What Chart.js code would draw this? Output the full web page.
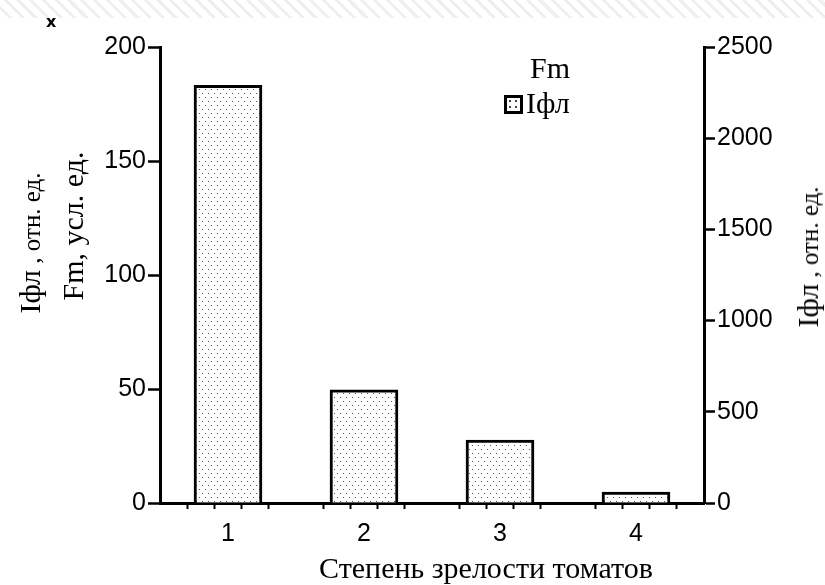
<!DOCTYPE html>
<html>
<head>
<meta charset="utf-8">
<script src="https://cdn.jsdelivr.net/npm/chart.js@4"></script>
<style>
  body { margin: 0; background: #fff; }
  #wrap { position: relative; width: 825px; height: 585px; overflow: hidden; background: #fff; }
  #strip {
    position: absolute; left: 0; top: 0; width: 825px; height: 18px;
    background: repeating-linear-gradient(45deg, #fff 0 6px, #efefef 6px 9px);
  }
  #chart { position: absolute; left: 0; top: 0; }
  .t { position: absolute; font-family: 'Liberation Serif', serif; color: #000; white-space: nowrap; line-height: 1; }
  .rot { transform: translate(-50%, -50%) rotate(-90deg); }
  .mark { position: absolute; left: 46px; top: 12px; font: bold 16px 'DejaVu Sans', sans-serif; color: #000; }
  .lgbox {
    position: absolute; left: 504px; top: 95px; width: 13px; height: 13px;
    border: 3px solid #000; background-color: #fff;
    background-image: radial-gradient(circle, #444 0.8px, transparent 1.1px);
    background-size: 6px 6px;
  }
</style>
</head>
<body>
<div id="wrap">
  <canvas id="chart" width="825" height="585"></canvas>
  <div id="strip"></div>
  <div class="mark">x</div>
  <div class="t rot" style="left:30px; top:243px;"><span style="font-size:30px">Iфл</span><span style="font-size:25px"> , отн. ед.</span></div>
  <div class="t rot" style="left:73px; top:226px; font-size:30px;">Fm, усл. ед.</div>
  <div class="t rot" style="left:808px; top:257px;"><span style="font-size:30px">Iфл</span><span style="font-size:25px"> , отн. ед.</span></div>
  <div class="t" id="xtitle" style="left:486px; top:553px; font-size:30px; transform:translateX(-50%);"></div>
  <div class="t" id="lg0" style="left:530px; top:53px; font-size:30px;"></div>
  <div class="lgbox"></div>
  <div class="t" id="lg1" style="left:526px; top:88px; font-size:30px;"></div>
</div>
<script>
// данные графика
const categories = ['1', '2', '3', '4'];
const seriesNames = ['Fm', 'Iфл'];
const iflValues = [2290, 620, 345, 60];
const leftTicks = [0, 50, 100, 150, 200];
const rightTicks = [0, 500, 1000, 1500, 2000, 2500];
const xTitle = 'Степень зрелости томатов';
// мелкие засечки на оси X вокруг каждой категории
const minorOffsets = [-0.3, -0.1, 0, 0.1, 0.3];

document.getElementById('xtitle').textContent = xTitle;
document.getElementById('lg0').textContent = seriesNames[0];
document.getElementById('lg1').textContent = seriesNames[1];

function dotPattern() {
    const c = document.createElement('canvas');
    c.width = 6;
    c.height = 8;
    const g = c.getContext('2d');
    g.fillStyle = '#fff';
    g.fillRect(0, 0, 6, 8);
    g.fillStyle = '#555';
    g.fillRect(1, 1, 1, 1);
    g.fillRect(4, 5, 1, 1);
    return g.createPattern(c, 'repeat');
}

const xTickValues = categories.flatMap(c => minorOffsets.map(o => Number(c) + o));
const tickFont = { family: 'Liberation Sans', size: 25 };

const ctx = document.getElementById('chart').getContext('2d');
new Chart(ctx, {
    type: 'bar',
    data: {
        datasets: [{
            label: seriesNames[1],
            data: categories.map((c, i) => ({ x: Number(c), y: iflValues[i] })),
            yAxisID: 'y1',
            backgroundColor: dotPattern(),
            borderColor: '#000',
            borderWidth: 3,
            barThickness: 68
        }]
    },
    options: {
        responsive: false,
        animation: false,
        devicePixelRatio: 1,
        layout: { padding: { top: 47, left: 0, right: 0, bottom: 0 } },
        plugins: { legend: { display: false }, tooltip: { enabled: false } },
        scales: {
            x: {
                type: 'linear',
                min: 0.5,
                max: 4.5,
                offset: false,
                afterBuildTicks: s => { s.ticks = xTickValues.map(v => ({ value: v })); },
                afterFit: s => { s.height = 82; },
                border: { color: '#000', width: 3 },
                grid: {
                    offset: false,
                    drawOnChartArea: false,
                    tickLength: 6,
                    tickWidth: 2,
                    tickColor: c => (c.tick && Number.isInteger(c.tick.value)) ? 'rgba(0,0,0,0)' : '#000'
                },
                ticks: {
                    autoSkip: false,
                    maxRotation: 0,
                    padding: 10,
                    color: '#000',
                    font: tickFont,
                    callback: v => Number.isInteger(v) ? String(v) : ''
                }
            },
            y: {
                position: 'left',
                min: 0,
                max: 200,
                afterBuildTicks: s => { s.ticks = leftTicks.map(v => ({ value: v })); },
                afterFit: s => { s.width = 160; },
                border: { color: '#000', width: 3 },
                grid: { drawOnChartArea: false, tickLength: 12, tickWidth: 2.5, tickColor: '#000' },
                ticks: { padding: 2, color: '#000', font: tickFont, callback: v => String(v) }
            },
            y1: {
                position: 'right',
                min: 0,
                max: 2500,
                afterBuildTicks: s => { s.ticks = rightTicks.map(v => ({ value: v })); },
                afterFit: s => { s.width = 121; },
                border: { color: '#000', width: 3 },
                grid: { drawOnChartArea: false, tickLength: 11, tickWidth: 2.5, tickColor: '#000' },
                ticks: { padding: 2, color: '#000', font: tickFont, callback: v => String(v) }
            }
        }
    }
});
</script>
</body>
</html>
